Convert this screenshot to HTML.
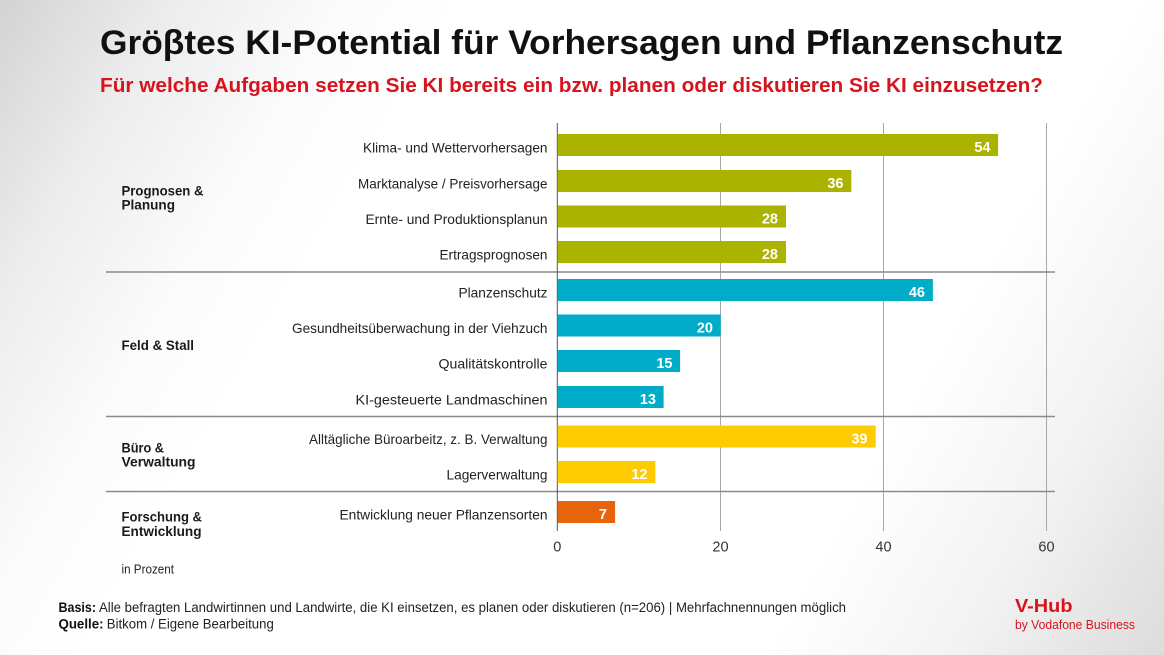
<!DOCTYPE html>
<html>
<head>
<meta charset="utf-8">
<style>
  html, body { margin:0; padding:0; }
  body { width:1164px; height:655px; overflow:hidden;
    background: linear-gradient(120deg, #d3d3d3 0%, #ececec 11%, #fbfbfb 22%, #ffffff 30%, #ffffff 74%, #f3f3f3 86%, #dcdcdc 100%);
    font-family: "Liberation Sans", sans-serif; }
  svg { display:block; }
  .lbl { font-size:14px; fill:#222; text-anchor:end; }
  .grp { font-size:14px; font-weight:bold; fill:#1a1a1a; }
  .val { font-size:14.5px; font-weight:bold; fill:#fff; text-anchor:end; }
  .tick { font-size:14.5px; fill:#333; text-anchor:middle; }
</style>
</head>
<body>
<svg width="1164" height="655" viewBox="0 0 1164 655" xmlns="http://www.w3.org/2000/svg">
  <!-- Title -->
  <text x="100" y="54" font-size="34" font-weight="bold" fill="#111" textLength="963" lengthAdjust="spacingAndGlyphs">Gröβtes KI-Potential für Vorhersagen und Pflanzenschutz</text>
  <text x="100" y="92" font-size="20" font-weight="bold" fill="#d7141e" textLength="943" lengthAdjust="spacingAndGlyphs">Für welche Aufgaben setzen Sie KI bereits ein bzw. planen oder diskutieren Sie KI einzusetzen?</text>

  <!-- gridlines -->
  <g stroke="#a8a8a8" stroke-width="1">
    <line x1="720.5" y1="123" x2="720.5" y2="531"/>
    <line x1="883.5" y1="123" x2="883.5" y2="531"/>
    <line x1="1046.5" y1="123" x2="1046.5" y2="531"/>
  </g>
  <!-- group separators -->
  <g stroke="#8a8a8a" stroke-width="1.4">
    <line x1="106" y1="272" x2="1055" y2="272"/>
    <line x1="106" y1="416.5" x2="1055" y2="416.5"/>
    <line x1="106" y1="491.5" x2="1055" y2="491.5"/>
  </g>
  <!-- axis -->
  <line x1="557.3" y1="123" x2="557.3" y2="531" stroke="#555" stroke-width="1"/>

  <!-- bars -->
  <g>
    <rect x="557.5" y="134" width="440.6" height="22" fill="#a9b300"/>
    <rect x="557.5" y="170" width="293.8" height="22" fill="#a9b300"/>
    <rect x="557.5" y="205.5" width="228.5" height="22" fill="#a9b300"/>
    <rect x="557.5" y="241" width="228.5" height="22" fill="#a9b300"/>
    <rect x="557.5" y="279" width="375.4" height="22" fill="#00acc8"/>
    <rect x="557.5" y="314.5" width="163.2" height="22" fill="#00acc8"/>
    <rect x="557.5" y="350" width="122.6" height="22" fill="#00acc8"/>
    <rect x="557.5" y="386" width="106.1" height="22" fill="#00acc8"/>
    <rect x="557.5" y="425.5" width="318.2" height="22" fill="#fecb00"/>
    <rect x="557.5" y="461" width="97.9" height="22" fill="#fecb00"/>
    <rect x="557.5" y="501" width="57.6" height="22" fill="#e8640c"/>
  </g>

  <!-- value labels -->
  <text class="val" x="990.5" y="152">54</text>
  <text class="val" x="843.5" y="188">36</text>
  <text class="val" x="778" y="223.5">28</text>
  <text class="val" x="778" y="259">28</text>
  <text class="val" x="925" y="297">46</text>
  <text class="val" x="713" y="332.5">20</text>
  <text class="val" x="672.5" y="368">15</text>
  <text class="val" x="656" y="404">13</text>
  <text class="val" x="867.5" y="443.5">39</text>
  <text class="val" x="647.5" y="479">12</text>
  <text class="val" x="607" y="519">7</text>

  <!-- category labels -->
  <text class="lbl" x="547.5" y="152.3" textLength="184.5" lengthAdjust="spacingAndGlyphs">Klima- und Wettervorhersagen</text>
  <text class="lbl" x="547.5" y="188.3" textLength="189.5" lengthAdjust="spacingAndGlyphs">Marktanalyse / Preisvorhersage</text>
  <text class="lbl" x="547.5" y="223.8" textLength="182" lengthAdjust="spacingAndGlyphs">Ernte- und Produktionsplanun</text>
  <text class="lbl" x="547.5" y="259.3" textLength="108" lengthAdjust="spacingAndGlyphs">Ertragsprognosen</text>
  <text class="lbl" x="547.5" y="297.3" textLength="89" lengthAdjust="spacingAndGlyphs">Planzenschutz</text>
  <text class="lbl" x="547.5" y="332.8" textLength="255.5" lengthAdjust="spacingAndGlyphs">Gesundheitsüberwachung in der Viehzuch</text>
  <text class="lbl" x="547.5" y="368.3" textLength="109" lengthAdjust="spacingAndGlyphs">Qualitätskontrolle</text>
  <text class="lbl" x="547.5" y="404.3" textLength="192" lengthAdjust="spacingAndGlyphs">KI-gesteuerte Landmaschinen</text>
  <text class="lbl" x="547.5" y="443.8" textLength="238.5" lengthAdjust="spacingAndGlyphs">Alltägliche Büroarbeitz, z. B. Verwaltung</text>
  <text class="lbl" x="547.5" y="479.3" textLength="101" lengthAdjust="spacingAndGlyphs">Lagerverwaltung</text>
  <text class="lbl" x="547.5" y="519.3" textLength="208" lengthAdjust="spacingAndGlyphs">Entwicklung neuer Pflanzensorten</text>

  <!-- group labels -->
  <text class="grp" x="121.5" y="195.3" textLength="82" lengthAdjust="spacingAndGlyphs">Prognosen &amp;</text>
  <text class="grp" x="121.5" y="209.5" textLength="53.5" lengthAdjust="spacingAndGlyphs">Planung</text>
  <text class="grp" x="121.5" y="350" textLength="72.5" lengthAdjust="spacingAndGlyphs">Feld &amp; Stall</text>
  <text class="grp" x="121.5" y="452.3" textLength="42.5" lengthAdjust="spacingAndGlyphs">Büro &amp;</text>
  <text class="grp" x="121.5" y="466.7" textLength="74" lengthAdjust="spacingAndGlyphs">Verwaltung</text>
  <text class="grp" x="121.5" y="521.7" textLength="80.5" lengthAdjust="spacingAndGlyphs">Forschung &amp;</text>
  <text class="grp" x="121.5" y="536" textLength="80" lengthAdjust="spacingAndGlyphs">Entwicklung</text>
  <text x="121.5" y="573.3" font-size="13" fill="#222" textLength="52.5" lengthAdjust="spacingAndGlyphs">in Prozent</text>

  <!-- ticks -->
  <text class="tick" x="557.3" y="551.5">0</text>
  <text class="tick" x="720.5" y="551.5">20</text>
  <text class="tick" x="883.5" y="551.5">40</text>
  <text class="tick" x="1046.5" y="551.5">60</text>

  <!-- footer -->
  <text x="58.5" y="612" font-size="13.5" font-weight="bold" fill="#111" textLength="37.5" lengthAdjust="spacingAndGlyphs">Basis:</text>
  <text x="99" y="612" font-size="13.5" fill="#222" textLength="747" lengthAdjust="spacingAndGlyphs">Alle befragten  Landwirtinnen und Landwirte, die KI einsetzen, es planen oder diskutieren (n=206) | Mehrfachnennungen möglich</text>
  <text x="58.5" y="628.3" font-size="13.5" font-weight="bold" fill="#111" textLength="45" lengthAdjust="spacingAndGlyphs">Quelle:</text>
  <text x="106.8" y="628.3" font-size="13.5" fill="#222" textLength="167" lengthAdjust="spacingAndGlyphs">Bitkom / Eigene Bearbeitung</text>

  <!-- logo -->
  <text x="1015" y="612" font-size="18.5" font-weight="bold" fill="#d7141e" textLength="57.5" lengthAdjust="spacingAndGlyphs">V-Hub</text>
  <text x="1015" y="629" font-size="13" fill="#d7141e" textLength="120" lengthAdjust="spacingAndGlyphs">by Vodafone Business</text>
</svg>
</body>
</html>
